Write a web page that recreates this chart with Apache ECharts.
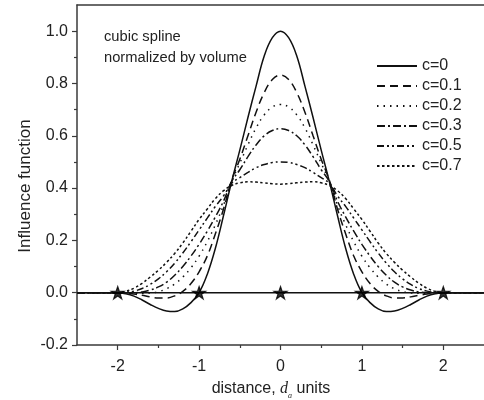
<!DOCTYPE html>
<html>
<head>
<meta charset="utf-8">
<script src="https://cdn.jsdelivr.net/npm/echarts@6/dist/echarts.min.js"></script>
<style>
html, body { margin: 0; padding: 0; background: #fff; }
#chart { width: 484px; height: 400px; }
</style>
</head>
<body>
<div id="chart"></div>
<script>
// distance d (units), sampled every 0.1
const xs = [-2.5,-2.4,-2.3,-2.2,-2.1,-2,-1.9,-1.8,-1.7,-1.6,-1.5,-1.4,-1.3,-1.2,-1.1,-1,-0.9,-0.8,-0.7,-0.6,-0.5,-0.4,-0.3,-0.2,-0.1,0,
            0.1,0.2,0.3,0.4,0.5,0.6,0.7,0.8,0.9,1,1.1,1.2,1.3,1.4,1.5,1.6,1.7,1.8,1.9,2,2.1,2.2,2.3,2.4,2.5];

// influence function for each c
const c0  = [0,0,0,0,0,0,-0.004,-0.013,-0.028,-0.045,-0.06,-0.07,-0.072,-0.062,-0.038,0,0.07,0.17,0.295,0.425,0.545,0.67,0.79,0.905,0.975,1.0,
             0.975,0.905,0.79,0.67,0.545,0.425,0.295,0.17,0.07,0,-0.038,-0.062,-0.072,-0.07,-0.06,-0.045,-0.028,-0.013,-0.004,0,0,0,0,0,0];
const c01 = [0,0,0,0,0,0,-0.001,-0.005,-0.01,-0.016,-0.02,-0.02,-0.012,0.005,0.035,0.08,0.14,0.225,0.32,0.43,0.51,0.6,0.69,0.765,0.815,0.832,
             0.815,0.765,0.69,0.6,0.51,0.43,0.32,0.225,0.14,0.08,0.035,0.005,-0.012,-0.02,-0.02,-0.016,-0.01,-0.005,-0.001,0,0,0,0,0,0];
const c02 = [0,0,0,0,0,0,-0.001,-0.002,-0.002,-0.001,0.004,0.015,0.033,0.06,0.095,0.14,0.195,0.26,0.335,0.425,0.495,0.565,0.63,0.68,0.71,0.72,
             0.71,0.68,0.63,0.565,0.495,0.425,0.335,0.26,0.195,0.14,0.095,0.06,0.033,0.015,0.004,-0.001,-0.002,-0.002,-0.001,0,0,0,0,0,0];
const c03 = [0,0,0,0,0,0,0,0,0.003,0.01,0.022,0.04,0.067,0.1,0.14,0.185,0.235,0.29,0.35,0.425,0.47,0.52,0.565,0.6,0.62,0.627,
             0.62,0.6,0.565,0.52,0.47,0.425,0.35,0.29,0.235,0.185,0.14,0.1,0.067,0.04,0.022,0.01,0.003,0,0,0,0,0,0,0,0];
const c05 = [0,0,0,0,0,0,0.001,0.006,0.016,0.032,0.053,0.08,0.113,0.152,0.195,0.24,0.285,0.33,0.37,0.418,0.44,0.46,0.478,0.49,0.498,0.5,
             0.498,0.49,0.478,0.46,0.44,0.418,0.37,0.33,0.285,0.24,0.195,0.152,0.113,0.08,0.053,0.032,0.016,0.006,0.001,0,0,0,0,0,0];
const c07 = [0,0,0,0,0,0,0.005,0.017,0.036,0.06,0.086,0.116,0.15,0.19,0.235,0.28,0.32,0.36,0.39,0.41,0.42,0.424,0.423,0.42,0.417,0.415,
             0.417,0.42,0.423,0.424,0.42,0.41,0.39,0.36,0.32,0.28,0.235,0.19,0.15,0.116,0.086,0.06,0.036,0.017,0.005,0,0,0,0,0,0];

const seriesNames = ['c=0', 'c=0.1', 'c=0.2', 'c=0.3', 'c=0.5', 'c=0.7'];
const seriesValues = [c0, c01, c02, c03, c05, c07];

// zero line and the marked nodes on it
const baseX = [-2.5, 2.5];
const baseY = [0, 0];
const nodeX = [-2, -1, 0, 1, 2];
const nodeY = [0, 0, 0, 0, 0];

// axis ticks
const xMajor = [-2, -1, 0, 1, 2];
const xMinor = [-1.5, -0.5, 0.5, 1.5];
const yMajor = [-0.2, 0, 0.2, 0.4, 0.6, 0.8, 1.0];
const yMinor = [-0.1, 0.1, 0.3, 0.5, 0.7, 0.9];

const FONT = '"Liberation Sans", Arial, sans-serif';
const INK = '#111';
const AXIS = '#3a3a3a';
const TXT = '#222';

const dashes = ['solid', [8, 5], [1.5, 5], [8, 3, 2, 3], [7, 3, 2, 3, 2, 3], [2.5, 2.5]];

const STAR = 'path://M50,0 L61.8,35.1 98.6,35.1 68.8,56.8 80.2,91.9 50,70.2 19.8,91.9 31.2,56.8 1.4,35.1 38.2,35.1 Z';

const curveSeries = seriesNames.map((name, i) => ({
  name: name,
  type: 'line',
  data: xs.map((x, k) => [x, seriesValues[i][k]]),
  smooth: 0.4,
  symbol: 'none',
  showSymbol: false,
  lineStyle: { color: INK, width: 1.5, type: dashes[i] },
  itemStyle: { color: INK },
  z: 3
}));

const chart = echarts.init(document.getElementById('chart'));
chart.setOption({
  animation: false,
  backgroundColor: '#fff',
  grid: { left: 77, top: 5, width: 408, height: 340, containLabel: false },
  xAxis: [
    {
      type: 'value', min: -2.5, max: 2.5, interval: 0.5, position: 'bottom',
      axisLine: { show: true, onZero: false, lineStyle: { color: AXIS, width: 1.5 } },
      axisTick: { show: true, customValues: xMajor, length: 5, lineStyle: { color: AXIS, width: 1.2 } },
      axisLabel: { customValues: xMajor, margin: 14, fontSize: 16, color: TXT, fontFamily: FONT,
                   formatter: v => String(v) },
      splitLine: { show: false }
    },
    {
      type: 'value', min: -2.5, max: 2.5, interval: 0.5, position: 'bottom',
      axisLine: { show: false, onZero: false },
      axisTick: { show: true, customValues: xMinor, length: 3, lineStyle: { color: AXIS, width: 1.2 } },
      axisLabel: { show: false },
      splitLine: { show: false }
    },
    {
      type: 'value', min: -2.5, max: 2.5, position: 'top',
      axisLine: { show: true, onZero: false, lineStyle: { color: AXIS, width: 1.5 } },
      axisTick: { show: false }, axisLabel: { show: false }, splitLine: { show: false }
    }
  ],
  yAxis: [
    {
      type: 'value', min: -0.2, max: 1.1, interval: 0.1, position: 'left',
      axisLine: { show: true, onZero: false, lineStyle: { color: AXIS, width: 1.5 } },
      axisTick: { show: true, customValues: yMajor, length: 5, lineStyle: { color: AXIS, width: 1.2 } },
      axisLabel: { customValues: yMajor, margin: 9, fontSize: 16, color: TXT, fontFamily: FONT,
                   formatter: v => v.toFixed(1) },
      splitLine: { show: false }
    },
    {
      type: 'value', min: -0.2, max: 1.1, interval: 0.1, position: 'left',
      axisLine: { show: false, onZero: false },
      axisTick: { show: true, customValues: yMinor, length: 3, lineStyle: { color: AXIS, width: 1.2 } },
      axisLabel: { show: false },
      splitLine: { show: false }
    }
  ],
  legend: {
    orient: 'vertical', left: 376, top: 58, padding: 0,
    itemWidth: 40, itemHeight: 16, itemGap: 4,
    data: seriesNames,
    itemStyle: { opacity: 0 },
    textStyle: { fontSize: 16, color: TXT, fontFamily: FONT, lineHeight: 16 }
  },
  graphic: [
    { type: 'text', x: 104, y: 37, style: { text: 'cubic spline', fontSize: 14.7, fontFamily: FONT, fill: TXT, verticalAlign: 'middle' } },
    { type: 'text', x: 104, y: 58, style: { text: 'normalized by volume', fontSize: 14.7, fontFamily: FONT, fill: TXT, verticalAlign: 'middle' } },
    { type: 'text', x: 25.5, y: 186, rotation: Math.PI / 2,
      style: { text: 'Influence function', fontSize: 17, fontFamily: FONT, fill: TXT, align: 'center', verticalAlign: 'middle' } },
    { type: 'text', x: 271, y: 389,
      style: {
        text: '{n|distance, }{d|d}{s|a}{n| units}', align: 'center', verticalAlign: 'middle',
        rich: {
          n: { fontSize: 16, fontFamily: FONT, fill: TXT, color: TXT },
          d: { fontSize: 16, fontFamily: '"Liberation Serif", "Times New Roman", serif', fontStyle: 'italic', color: TXT, fill: TXT },
          s: { fontSize: 8, fontFamily: '"Liberation Serif", serif', fontStyle: 'italic', color: TXT, fill: TXT, padding: [14, 0, 0, 0], verticalAlign: 'middle' }
        }
      } }
  ],
  series: curveSeries.concat([
    {
      name: 'zero', type: 'line', data: baseX.map((x, k) => [x, baseY[k]]),
      symbol: 'none', lineStyle: { color: INK, width: 1.5 }, z: 4
    },
    {
      name: 'nodes', type: 'scatter', data: nodeX.map((x, k) => [x, nodeY[k]]),
      symbol: STAR, symbolSize: 13, symbolKeepAspect: true,
      itemStyle: { color: '#000', borderColor: '#000', borderWidth: 1.2 }, z: 5
    }
  ])
});
</script>
</body>
</html>
